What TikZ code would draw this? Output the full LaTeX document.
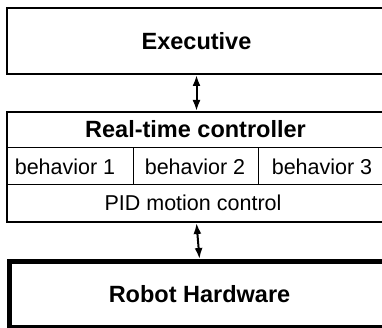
\documentclass[tikz,border=0pt]{standalone}
\usepackage{fontspec}
\setmainfont{Liberation Sans}
\usetikzlibrary{arrows.meta}
\begin{document}
\begin{tikzpicture}[x=1pt,y=-1pt,
  box/.style={draw, line width=2pt, minimum width=379pt, anchor=north west, inner sep=0pt},
  hwbox/.style={draw, line width=5pt, minimum width=380pt, anchor=north west, inner sep=0pt},
  titletext/.style={font=\bfseries\fontsize{23.5}{27}\selectfont},
  celltext/.style={font=\fontsize{21.5}{25}\selectfont},
  pidtext/.style={font=\fontsize{21.5}{25}\selectfont},
  inner/.style={line width=1pt},
  link/.style={{Latex[length=11pt,width=8pt]}-{Latex[length=11pt,width=8pt]}, line width=2pt}]
\useasboundingbox (0,0) rectangle (382,328);
\clip (0,0) rectangle (382,328);
\node[box, minimum height=66pt, titletext] (exec) at (6,7) {Executive};
\node[box, minimum height=110pt] (ctrl) at (6,111) {};
\node[hwbox, minimum height=66pt, titletext] (hw) at (7,259) {Robot Hardware};
\node[titletext] (ctitle) at (195.5,129.5) {Real-time controller};
\node[celltext] (b1) at (65,166.5) {behavior 1};
\node[celltext] (b2) at (195,166.5) {behavior 2};
\node[celltext] (b3) at (322,166.5) {behavior 3};
\node[pidtext] (pid) at (193,203) {PID motion control};
\coordinate (r1l) at (6,148); \coordinate (r1r) at (385,148);
\coordinate (r2l) at (6,185); \coordinate (r2r) at (385,185);
\coordinate (d1t) at (133,148); \coordinate (d1b) at (133,185);
\coordinate (d2t) at (258,148); \coordinate (d2b) at (258,185);
\draw[inner] (r1l) -- (r1r);
\draw[inner] (r2l) -- (r2r);
\draw[inner] (d1t) -- (d1b);
\draw[inner] (d2t) -- (d2b);
\draw[link] (exec.south) -- (ctrl.north);
\draw[link] (ctrl.south) -- (hw.north);
\end{tikzpicture}
\end{document}
